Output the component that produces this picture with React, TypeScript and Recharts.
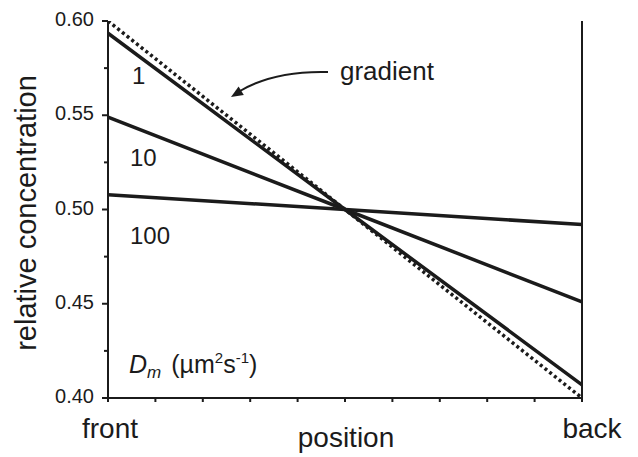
import React from 'react';
import { LineChart, Line, XAxis, YAxis, Customized } from 'recharts';

// ---- data ----
const positions = [0, 0.5, 1];
const gradientValues = [0.6, 0.5, 0.4];
const d1Values = [0.5935, 0.5, 0.407];
const d10Values = [0.549, 0.5, 0.451];
const d100Values = [0.5078, 0.5, 0.492];

const seriesNames = ['1', '10', '100'];
const yMajorTicks = [0.4, 0.45, 0.5, 0.55, 0.6];
const yAllTicks = [0.4, 0.425, 0.45, 0.475, 0.5, 0.525, 0.55, 0.575, 0.6];
const xTicks = [0, 0.1, 0.2, 0.3, 0.4, 0.5, 0.6, 0.7, 0.8, 0.9, 1];
const xLabelTicks = [0, 1];
const xLabelTexts = ['front', 'back'];
const xTitle = 'position';
const yTitle = 'relative concentration';
const gradientLabel = 'gradient';

const rows = positions.map((p, i) => ({
  pos: p,
  gradient: gradientValues[i],
  d1: d1Values[i],
  d10: d10Values[i],
  d100: d100Values[i],
}));

const INK = '#1b1b1b';
const FONT = '"Liberation Sans", Arial, Helvetica, sans-serif';

const isMajor = (v: number) => yMajorTicks.some((m) => Math.abs(m - v) < 1e-6);

const LeftTick = (props: any) => {
  const { x, y, payload } = props;
  const v = payload.value as number;
  const major = isMajor(v);
  return (
    <g>
      <line x1={x - (major ? 6 : 4)} x2={x} y1={y} y2={y} stroke={INK} strokeWidth={2} />
      {major && (
        <text x={x - 14} y={y} dy={5} textAnchor="end" fontSize={20} fill={INK} fontFamily={FONT}>
          {v.toFixed(2)}
        </text>
      )}
    </g>
  );
};

const BottomTick = (props: any) => {
  const { x, y, payload } = props;
  const v = payload.value as number;
  const idx = xLabelTicks.findIndex((t) => Math.abs(t - v) < 1e-6);
  return (
    <g>
      <line x1={x} x2={x} y1={y} y2={y + 4} stroke={INK} strokeWidth={2} />
      {idx >= 0 && (
        <text
          x={x + (idx === 0 ? 2 : 10)}
          y={y}
          dy={40}
          textAnchor="middle"
          fontSize={28}
          fill={INK}
          fontFamily={FONT}
        >
          {xLabelTexts[idx]}
        </text>
      )}
    </g>
  );
};

const Annotations = () => (
  <g fontFamily={FONT} fill={INK}>
    <text x={36} y={213} fontSize={29} textAnchor="middle" transform="rotate(-90 36 213)">
      {yTitle}
    </text>
    <text x={346} y={447} fontSize={28} textAnchor="middle">
      {xTitle}
    </text>
    <text x={132} y={84} fontSize={24}>{seriesNames[0]}</text>
    <text x={130} y={166} fontSize={24}>{seriesNames[1]}</text>
    <text x={130} y={244} fontSize={24}>{seriesNames[2]}</text>
    <text x={340} y={80} fontSize={26}>{gradientLabel}</text>
    <path d="M328,72 C292,71 262,78 240,91" fill="none" stroke={INK} strokeWidth={2} />
    <polygon points="231,97 238.6,86.5 243.8,95" fill={INK} />
    <text x={129} y={373} fontSize={25}>
      <tspan fontStyle="italic">D</tspan>
      <tspan fontStyle="italic" fontSize={17} dy={5}>m</tspan>
      <tspan dy={-5} dx={10}>(µm</tspan>
      <tspan fontSize={15} dy={-10}>2</tspan>
      <tspan dy={10}>s</tspan>
      <tspan fontSize={15} dy={-10}>-1</tspan>
      <tspan dy={10}>)</tspan>
    </text>
  </g>
);

export default function App() {
  return (
    <div style={{ position: 'absolute', left: 0, top: 0, width: 638, height: 457, background: '#fff' }}>
      <LineChart width={638} height={457} data={rows} margin={{ top: 21, right: 0, bottom: 0, left: 0 }}>
        <XAxis
          dataKey="pos"
          type="number"
          domain={[0, 1]}
          ticks={xTicks}
          interval={0}
          height={59}
          tickSize={0}
          tickMargin={0}
          tickLine={false}
          tick={<BottomTick />}
          axisLine={{ stroke: INK, strokeWidth: 2 }}
        />
        <YAxis
          yAxisId="left"
          type="number"
          domain={[0.4, 0.6]}
          ticks={yAllTicks}
          interval={0}
          width={108}
          tickSize={0}
          tickMargin={0}
          tickLine={false}
          tick={<LeftTick />}
          axisLine={{ stroke: INK, strokeWidth: 2 }}
          allowDataOverflow
        />
        <YAxis
          yAxisId="right"
          orientation="right"
          type="number"
          domain={[0.4, 0.6]}
          ticks={yMajorTicks}
          interval={0}
          width={56}
          tickSize={5}
          tick={false}
          tickLine={{ stroke: INK, strokeWidth: 2 }}
          axisLine={{ stroke: INK, strokeWidth: 2 }}
          allowDataOverflow
        />
        <Line yAxisId="left" dataKey="d100" stroke={INK} strokeWidth={3.5} dot={false} isAnimationActive={false} />
        <Line yAxisId="left" dataKey="d10" stroke={INK} strokeWidth={3.5} dot={false} isAnimationActive={false} />
        <Line yAxisId="left" dataKey="d1" stroke={INK} strokeWidth={3.5} dot={false} isAnimationActive={false} />
        <Line
          yAxisId="left"
          dataKey="gradient"
          stroke={INK}
          strokeWidth={3.5}
          strokeDasharray="3 3"
          dot={false}
          isAnimationActive={false}
        />
        <Customized component={Annotations} />
      </LineChart>
    </div>
  );
}
